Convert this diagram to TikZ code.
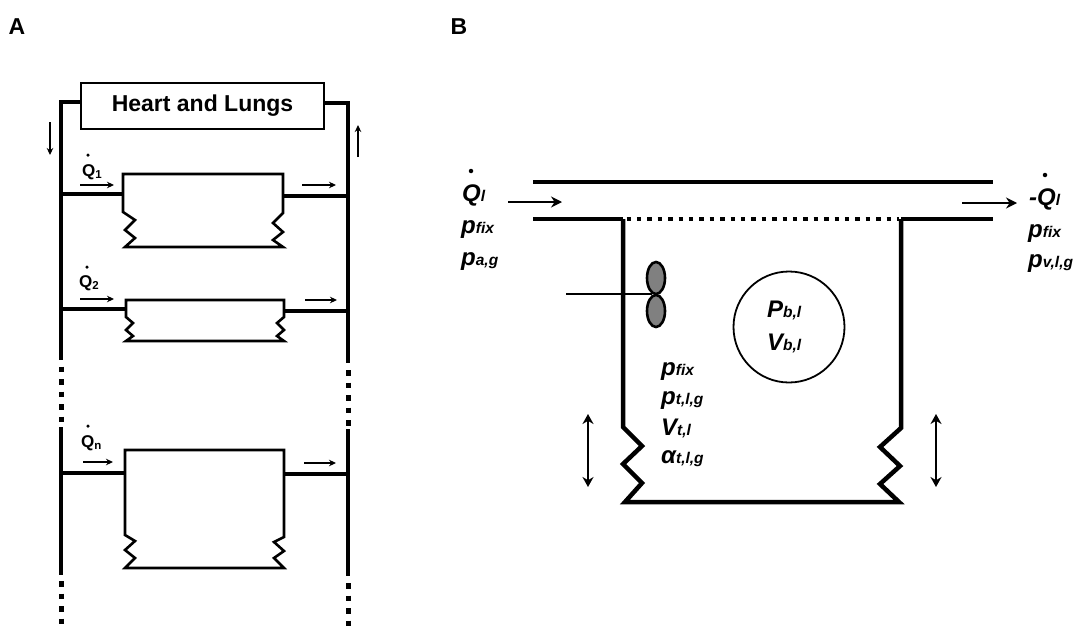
\documentclass[tikz,border=0pt]{standalone}
\usepackage{fontspec}
\setmainfont{Liberation Sans}
\usetikzlibrary{arrows.meta,shapes.geometric}
\tikzset{
  x=1pt,y=-1pt,
  trunk/.style={line width=4.8pt,line cap=butt,line join=miter},
  trunkdots/.style={line width=5pt,dash pattern=on 5.5pt off 7pt},
  boxline/.style={line width=2.6pt,line join=miter},
  wall/.style={line width=4.5pt,line join=miter},
  flowA/.style={line width=1.3pt,-{Stealth[length=7pt,width=6.5pt]}},
  flowB/.style={line width=1.8pt,-{Stealth[length=11pt,width=11pt]}},
  moveB/.style={line width=1.6pt,{Stealth[length=10pt,width=11pt]}-{Stealth[length=10pt,width=11pt]}},
  headlab/.style={font=\fontsize{23}{23}\selectfont\bfseries,inner sep=0pt,anchor=center},
  qlab/.style={font=\fontsize{17}{17}\selectfont\bfseries,inner sep=0pt,anchor=west},
  blab/.style={font=\fontsize{24}{24}\selectfont\bfseries\itshape,inner sep=0pt,anchor=west},
  heart/.style={draw,line width=2.4pt,fill=white,minimum width=243pt,minimum height=46pt,inner sep=0pt,
    font=\fontsize{23}{23}\selectfont\bfseries},
  vesicle/.style={draw,line width=2.6pt,ellipse,fill=black!50,inner sep=0pt},
  qdot/.style={circle,fill=black,inner sep=0pt}
}
\newcommand{\subt}[1]{{\fontsize{15.5}{15.5}\selectfont #1}}
\newcommand{\subq}[1]{{\fontsize{11.5}{11.5}\selectfont\raisebox{-2pt}{#1}}}
\begin{document}
\begin{tikzpicture}
\useasboundingbox (0,0) rectangle (1078,629);

% headings
\node[headlab] (labA) at (17,27) {A};
\node[headlab] (labB) at (459,27) {B};

% ---------- Panel A: trunks
\node[heart] (hl) at (202.5,106) {Heart and Lungs};
\coordinate (lt) at (61,102);
\coordinate (rt) at (348,103);
\coordinate (l1) at (61,360);
\coordinate (l2) at (61,427);
\coordinate (l3) at (61,575);
\coordinate (r1) at (348,363);
\coordinate (r2) at (348,429);
\coordinate (r3) at (348,576);
\draw[trunk] (hl.west |- lt) -- (lt) -- (l1);
\draw[trunk] (hl.east |- rt) -- (rt) -- (r1);
\draw[trunkdots] (61,366.5) -- (l2);
\draw[trunkdots] (348,370) -- (r2);
\draw[trunk] (l2) -- (l3);
\draw[trunk] (r2) -- (r3);
\draw[trunkdots] (61,581) -- (61,626);
\draw[trunkdots] (348,583) -- (348,627);

% ---------- branch 1
\draw[trunk] (61,194) -- (123,194);
\draw[trunk] (283,196) -- (348,196);
\draw[boxline] (123,212) -- (123,174) -- (283,174) -- (283,213) -- (273,223) -- (283,232) -- (273,240) -- (283,247)
  -- (125,247) -- (135,238) -- (125,230) -- (135,220) -- cycle;
% ---------- branch 2
\draw[trunk] (61,309) -- (126,309);
\draw[trunk] (284,311) -- (348,311);
\draw[boxline] (126,317) -- (126,300) -- (284,300) -- (284,317) -- (277,323) -- (284,330) -- (277,336) -- (284,341)
  -- (126,341) -- (133,336) -- (126,330) -- (133,323) -- cycle;
% ---------- branch n
\draw[trunk] (61,473) -- (124,473);
\draw[trunk] (284,474) -- (348,474);
\draw[boxline] (125,535) -- (125,450) -- (284,450) -- (284,537) -- (274,542) -- (284,551) -- (274,558) -- (284,568)
  -- (125,568) -- (135,558) -- (125,550) -- (135,541) -- cycle;

% flow arrows, panel A
\draw[flowA] (50,122) -- (50,155);
\draw[flowA] (358,157) -- (358,125);
\draw[flowA] (80,185) -- (114,185);
\draw[flowA] (302,185) -- (336,185);
\draw[flowA] (80,299) -- (114,299);
\draw[flowA] (305,300) -- (337,300);
\draw[flowA] (83,462) -- (113,462);
\draw[flowA] (304,463) -- (336,463);

% Q labels
\node[qlab] (q1) at (82,172) {Q\subq{1}};
\node[qlab] (q2) at (79,283) {Q\subq{2}};
\node[qlab] (qn) at (81,443) {Q\subq{n}};
\node[qdot,minimum size=3.5pt] (d1) at (88,155) {};
\node[qdot,minimum size=3.5pt] (d2) at (87,267) {};
\node[qdot,minimum size=3.5pt] (d3) at (88,426) {};

% ---------- Panel B: vessel
\coordinate (pa) at (533,182);
\coordinate (pb) at (993,182);
\coordinate (pc) at (533,219);
\coordinate (pd) at (623,219);
\coordinate (pe) at (901,219);
\coordinate (pf) at (993,219);
\draw[wall] (pa) -- (pb);
\draw[wall] (pc) -- (pd);
\draw[wall] (pe) -- (pf);
\draw[line width=4.5pt,dash pattern=on 4.4pt off 6pt] (626.5,219) -- (899,219);
\draw[wall] (pd) -- (623,427) -- (642,446) -- (623,464) -- (642,483) -- (625,502) -- (899,502)
  -- (880,484) -- (900,466) -- (880,447) -- (901,428) -- (pe);

% vesicles and membrane line
\node[vesicle,minimum width=18pt,minimum height=32pt] (v1) at (656,278) {};
\node[vesicle,minimum width=18pt,minimum height=32pt] (v2) at (656,311) {};
\coordinate (mem) at (566,294);
\draw[line width=1.8pt] (mem) -- (652,294);

% brain circle
\node[draw,circle,line width=1.8pt,minimum size=111pt,inner sep=0pt] (cell) at (789,327) {};

% arrows panel B
\draw[flowB] (508,202) -- (562,202);
\draw[flowB] (962,203) -- (1017,203);
\draw[moveB] (588,414) -- (588,487);
\draw[moveB] (936,414) -- (936,487);

% labels panel B
\node[qdot,minimum size=4.5pt] (dl) at (471,171) {};
\node[blab] (ql) at (462,195) {Q\subt{l}};
\node[blab] (pfl) at (461,230) {p\subt{fix}};
\node[blab] (pag) at (461,262) {p\subt{a,g}};

\node[qdot,minimum size=4.5pt] (dr) at (1045,175) {};
\node[blab] (qr) at (1029,199) {-Q\subt{l}};
\node[blab] (pfr) at (1028,234) {p\subt{fix}};
\node[blab] (pvr) at (1028,264) {p\subt{v,l,g}};

\node[blab] (pb1) at (767,310) {P\subt{b,l}};
\node[blab] (vb1) at (767,343) {V\subt{b,l}};

\node[blab] (pt1) at (661,372) {p\subt{fix}};
\node[blab] (pt2) at (661,401) {p\subt{t,l,g}};
\node[blab] (pt3) at (661,428) {V\subt{t,l}};
\node[blab] (pt4) at (661,459) {α\subt{t,l,g}};
\end{tikzpicture}
\end{document}
